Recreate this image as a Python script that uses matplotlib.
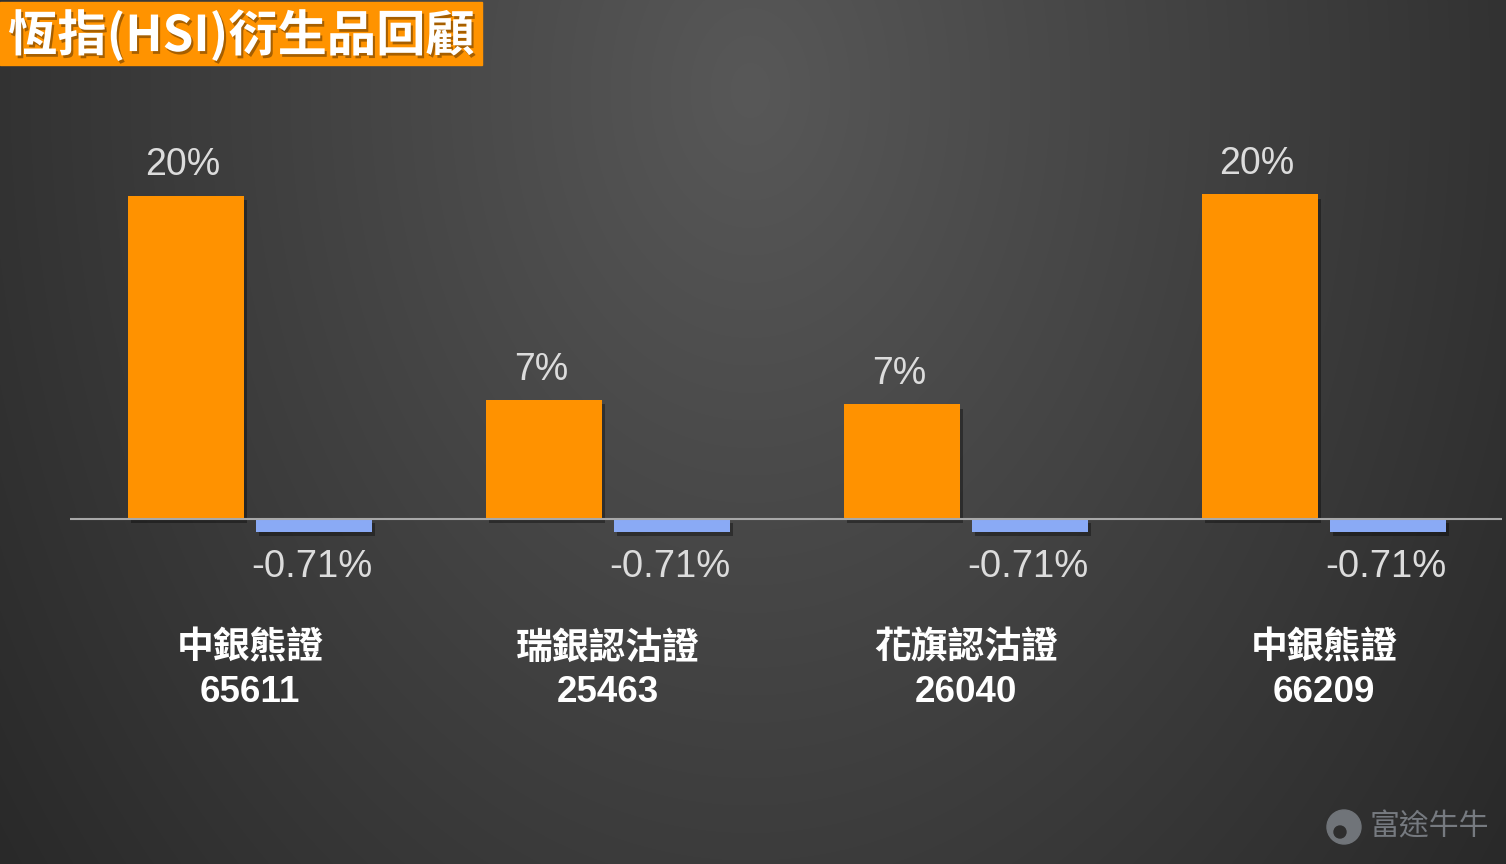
import numpy as np
import matplotlib
matplotlib.use("Agg")
import matplotlib.pyplot as plt
import matplotlib.patheffects as pe
from matplotlib.patches import Rectangle, Circle

plt.rcParams['font.family'] = ['Noto Sans CJK TC', 'DejaVu Sans']

# ---- data ----
categories = ["中銀熊證", "瑞銀認沽證", "花旗認沽證", "中銀熊證"]
codes = ["65611", "25463", "26040", "66209"]
orange_values = [20.0, 7.35, 7.1, 20.1]
orange_labels = ["20%", "7%", "7%", "20%"]
blue_values = [-0.78, -0.78, -0.78, -0.78]
blue_labels = ["-0.71%", "-0.71%", "-0.71%", "-0.71%"]
title = "恆指(HSI)衍生品回顧"
watermark = "富途牛牛"

W, H = 1506, 864
fig = plt.figure(figsize=(W / 100, H / 100), dpi=100)

# background radial gradient
bg = fig.add_axes([0, 0, 1, 1])
yy, xx = np.mgrid[0:H, 0:W]
r = np.sqrt(((xx - 750) / 800.0) ** 2 + ((yy - 90) / 1100.0) ** 2)
v = np.clip(88 - 40 * r, 40, 90) / 255.0
img = np.dstack([v, v, v])
bg.imshow(img, extent=[0, W, H, 0], aspect='auto')
bg.set_xlim(0, W)
bg.set_ylim(H, 0)
bg.axis('off')

# chart axes: px y 100..600, baseline at 519
px_per_unit = 16.15
top_px, bot_px, base_px = 100, 600, 519
ax = fig.add_axes([70 / W, (H - bot_px) / H, (1502 - 70) / W, (bot_px - top_px) / H])
ax.set_facecolor('none')
ax.set_ylim(-(bot_px - base_px) / px_per_unit, (base_px - top_px) / px_per_unit)
ax.set_xlim(-0.503, 3.497)
ax.axis('off')

x = np.arange(len(categories))
bw = 0.324
off = 0.179
shadow = [pe.SimplePatchShadow(offset=(2, -3), shadow_rgbFace='black', alpha=0.35), pe.Normal()]
ob = ax.bar(x - off, orange_values, width=bw, color='#FF9200', zorder=3)
bb = ax.bar(x + off, blue_values, width=bw, color='#8AAAF5', zorder=3)
for p in list(ob) + list(bb):
    p.set_path_effects(shadow)
ax.axhline(0, color='#a8a8a8', lw=1.5, zorder=4)

for i in range(len(x)):
    ax.annotate(orange_labels[i], (x[i] - off, orange_values[i]), xytext=(-2, 22),
                textcoords='offset points', ha='center', va='center',
                color='#dcdcdc', fontsize=27, family=['Liberation Sans', 'DejaVu Sans'])
    ax.annotate(blue_labels[i], (x[i] + off, 0), xytext=(-2, -34.5),
                textcoords='offset points', ha='center', va='center',
                color='#dcdcdc', fontsize=27.5, family=['Liberation Sans', 'DejaVu Sans'])

# category labels (in figure pixel coords via bg axes)
for i in range(len(x)):
    cx = 250 + 358 * i
    bg.text(cx, 648, categories[i], ha='center', va='center', color='white',
            fontsize=26.5, fontweight='bold')
    bg.text(cx, 692, codes[i], ha='center', va='center', color='white',
            fontsize=26.5, fontweight='bold', family=['Liberation Sans', 'DejaVu Sans'])

# title box
bg.add_patch(Rectangle((0, 2), 482, 63, color='#FF9300', zorder=5))
bg.text(8, 35, title, ha='left', va='center', color='white', fontsize=35.5,
        fontweight='bold', zorder=6,
        path_effects=[pe.withSimplePatchShadow(offset=(1.5, -2), shadow_rgbFace='black', alpha=0.35)])

# watermark
bg.add_patch(Circle((1344, 827), 17, color='#707479', zorder=5))
bg.add_patch(Circle((1340, 832), 6, color='#2e2e2e', zorder=6))
bg.text(1370, 827, watermark, ha='left', va='center', color='#767a80', fontsize=21.5, zorder=6)

fig.savefig('out.png', dpi=100)
